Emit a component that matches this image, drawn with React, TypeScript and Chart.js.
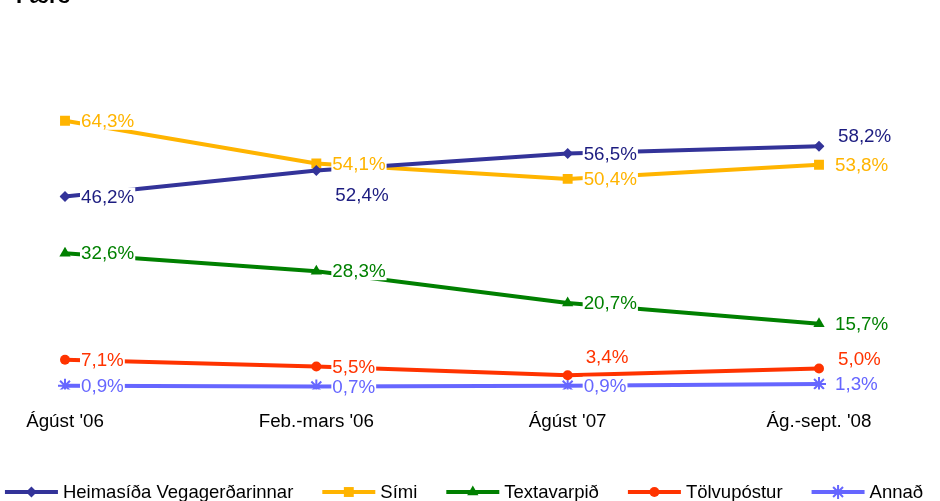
import React, { useEffect, useRef } from 'react';
import { Chart, registerables } from 'chart.js';

Chart.register(...registerables);

const titleText = 'Færð';
const categories = ["Ágúst '06", "Feb.-mars '06", "Ágúst '07", "Ág.-sept. '08"];
const seriesNames = ['Heimasíða Vegagerðarinnar', 'Sími', 'Textavarpið', 'Tölvupóstur', 'Annað'];
const heimasida = [46.2, 52.4, 56.5, 58.2];
const simi = [64.3, 54.1, 50.4, 53.8];
const textavarpid = [32.6, 28.3, 20.7, 15.7];
const tolvupostur = [7.1, 5.5, 3.4, 5.0];
const annad = [0.9, 0.7, 0.9, 1.3];

// label placement per series/point: r = right, br = below-right, ar = above-right, a = above
const labelPlacement = [
  ['r', 'br', 'r', 'ar'],
  ['r', 'r', 'r', 'r'],
  ['r', 'r', 'r', 'r'],
  ['r', 'r', 'a', 'ar'],
  ['r', 'r', 'r', 'r'],
];

const lineColors = ['#333399', '#FFB400', '#008000', '#FF3300', '#6666FF'];
const labelColors = ['#1c1c80', '#FFB400', '#008000', '#FF3300', '#6666FF'];
const pointStyles = ['rectRot', 'rect', 'triangle', 'circle', 'star'];
const pointRadii = [5.5, 7, 6.5, 5, 7];

const FONT = '"Liberation Sans", Arial, sans-serif';
const FSIZE = 18.8;
const LEGEND_FSIZE = 18.5;

const fmt = (v: number) => v.toFixed(1).replace('.', ',') + '%';

const labelsPlugin = {
  id: 'valueLabels',
  afterDatasetsDraw(chart: any) {
    const ctx = chart.ctx;
    ctx.save();
    ctx.font = `${FSIZE}px ${FONT}`;
    ctx.textBaseline = 'middle';
    ctx.textAlign = 'left';
    chart.data.datasets.forEach((ds: any, di: number) => {
      const meta = chart.getDatasetMeta(di);
      meta.data.forEach((pt: any, i: number) => {
        const text = fmt(ds.data[i]);
        const place = labelPlacement[di][i];
        let dx = 16;
        let dy = 0;
        if (place === 'br') { dx = 19; dy = 24; }
        if (place === 'ar') { dx = 19; dy = -10; }
        if (place === 'a') { dx = 18; dy = -18; }
        const x = pt.x + dx;
        const y = pt.y + dy;
        const w = ctx.measureText(text).width;
        ctx.fillStyle = '#ffffff';
        ctx.fillRect(x - 1, y - 9, w + 2, 18);
        ctx.fillStyle = labelColors[di];
        ctx.fillText(text, x, y + 1);
      });
    });
    ctx.restore();
  },
};

function drawMarker(ctx: CanvasRenderingContext2D, style: string, r: number, x: number, y: number) {
  ctx.beginPath();
  if (style === 'rectRot') {
    ctx.moveTo(x, y - r);
    ctx.lineTo(x + r, y);
    ctx.lineTo(x, y + r);
    ctx.lineTo(x - r, y);
    ctx.closePath();
    ctx.fill();
  } else if (style === 'rect') {
    const s = r * Math.SQRT1_2;
    ctx.rect(x - s, y - s, 2 * s, 2 * s);
    ctx.fill();
  } else if (style === 'triangle') {
    ctx.moveTo(x - r * 0.866, y + r * 0.5);
    ctx.lineTo(x, y - r);
    ctx.lineTo(x + r * 0.866, y + r * 0.5);
    ctx.closePath();
    ctx.fill();
  } else if (style === 'circle') {
    ctx.arc(x, y, r, 0, Math.PI * 2);
    ctx.fill();
  } else if (style === 'star') {
    ctx.moveTo(x - r, y);
    ctx.lineTo(x + r, y);
    ctx.moveTo(x, y - r);
    ctx.lineTo(x, y + r);
    const d = r * Math.SQRT1_2;
    ctx.moveTo(x - d, y - d);
    ctx.lineTo(x + d, y + d);
    ctx.moveTo(x - d, y + d);
    ctx.lineTo(x + d, y - d);
    ctx.stroke();
  }
}

const legendPlugin = {
  id: 'customLegend',
  afterDraw(chart: any) {
    const ctx = chart.ctx;
    ctx.save();
    ctx.font = `${LEGEND_FSIZE}px ${FONT}`;
    ctx.textBaseline = 'middle';
    ctx.textAlign = 'left';
    const lineLen = 53;
    const gap = 5;
    const spacing = 29;
    const ds = chart.data.datasets;
    const widths = ds.map((d: any) => lineLen + gap + ctx.measureText(d.label).width);
    const total = widths.reduce((a: number, b: number) => a + b, 0) + spacing * (ds.length - 1);
    let x = 464 - total / 2;
    const y = 492;
    ds.forEach((d: any, i: number) => {
      ctx.strokeStyle = d.borderColor;
      ctx.lineWidth = 4;
      ctx.beginPath();
      ctx.moveTo(x, y);
      ctx.lineTo(x + lineLen, y);
      ctx.stroke();
      ctx.fillStyle = d.pointBackgroundColor;
      ctx.strokeStyle = d.pointBorderColor;
      ctx.lineWidth = d.pointBorderWidth;
      drawMarker(ctx, d.pointStyle, d.pointRadius, x + lineLen / 2, y);
      ctx.fillStyle = '#000000';
      ctx.fillText(d.label, x + lineLen + gap, y + 1);
      x += widths[i] + spacing;
    });
    ctx.restore();
  },
};

export default function App() {
  const ref = useRef<HTMLCanvasElement | null>(null);
  useEffect(() => {
    if (!ref.current) return;
    const series = [heimasida, simi, textavarpid, tolvupostur, annad];
    const chart = new Chart(ref.current, {
      type: 'line',
      data: {
        labels: categories,
        datasets: series.map((data, i) => ({
          label: seriesNames[i],
          data,
          borderColor: lineColors[i],
          backgroundColor: lineColors[i],
          borderWidth: 4,
          pointStyle: pointStyles[i] as any,
          pointRadius: pointRadii[i],
          pointBackgroundColor: lineColors[i],
          pointBorderColor: lineColors[i],
          pointBorderWidth: i === 4 ? 2 : 0,
          tension: 0,
          fill: false,
        })),
      },
      options: {
        responsive: false,
        animation: false,
        events: [],
        layout: { padding: { left: 65, right: 121, top: 97, bottom: 47 } },
        plugins: {
          legend: { display: false },
          tooltip: { enabled: false },
          title: { display: false },
        },
        scales: {
          x: {
            offset: false,
            grid: { display: false, drawTicks: false },
            border: { display: false },
            ticks: {
              color: '#000000',
              font: { family: FONT, size: FSIZE },
              padding: 21,
              maxRotation: 0,
              autoSkip: false,
            },
          },
          y: {
            display: false,
            min: 0,
            max: 70,
          },
        },
      },
      plugins: [labelsPlugin, legendPlugin],
    });
    return () => chart.destroy();
  }, []);

  return (
    <div style={{ position: 'absolute', left: 0, top: 0, width: 940, height: 501, background: '#fff', overflow: 'hidden' }}>
      <div
        style={{
          position: 'absolute',
          left: 16,
          top: -17,
          fontFamily: FONT,
          fontWeight: 'bold',
          fontSize: 22,
          color: '#000',
        }}
      >
        {titleText}
      </div>
      <canvas ref={ref} width={940} height={501} style={{ display: 'block', width: 940, height: 501 }} />
    </div>
  );
}
